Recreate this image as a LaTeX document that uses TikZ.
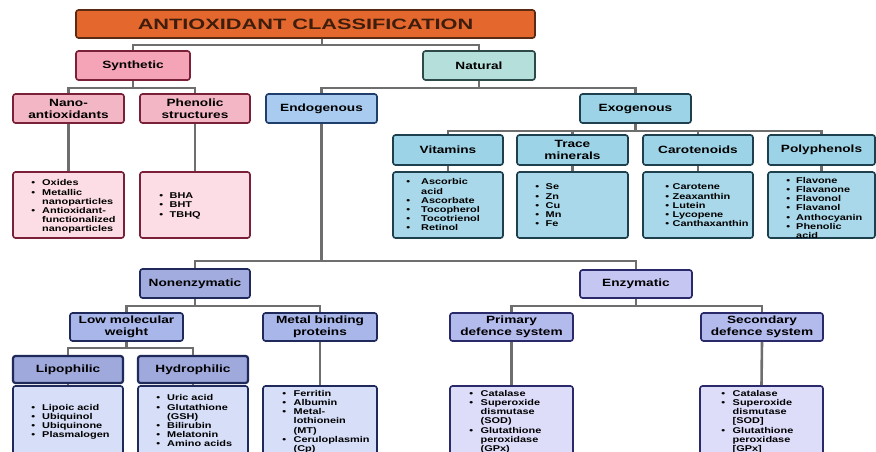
\documentclass[tikz,border=0pt]{standalone}
\usepackage{fontspec}
\newfontfamily\labfam[FakeStretch=1.3]{Liberation Sans Bold}
\newfontfamily\titfam[FakeStretch=1.45]{Liberation Sans Bold}
\newcommand\labfont{\labfam\fontsize{10.5}{12}\selectfont}
\newcommand\titfont{\titfam\fontsize{15}{17}\selectfont}
\newcommand\listfont{\labfam\fontsize{8.4}{9.2}\selectfont}
\newcommand\blist[2]{\begin{tabular}{@{}l@{\hspace{#1}}l@{}}#2\end{tabular}}
\newcommand\bu{\textbullet}
\definecolor{conncol}{HTML}{6E6E6E}
\definecolor{titfill}{HTML}{E4682E}
\definecolor{titdraw}{HTML}{5A2A12}
\definecolor{synfill}{HTML}{F5A3B6}
\definecolor{pinkfill}{HTML}{F3B6C5}
\definecolor{pinklist}{HTML}{FCDDE5}
\definecolor{pinkdraw}{HTML}{7A2038}
\definecolor{natfill}{HTML}{B4DFDA}
\definecolor{natdraw}{HTML}{2E4A48}
\definecolor{endofill}{HTML}{A9CBEF}
\definecolor{endodraw}{HTML}{1F3E6B}
\definecolor{exofill}{HTML}{9DD3E6}
\definecolor{exolist}{HTML}{A8D8E9}
\definecolor{exodraw}{HTML}{1E3F4E}
\definecolor{nonfill}{HTML}{A3ACDF}
\definecolor{nondraw}{HTML}{1F2A5A}
\definecolor{lowfill}{HTML}{A9B6E9}
\definecolor{lipofill}{HTML}{9FA9DC}
\definecolor{nonlist}{HTML}{D6DEF8}
\definecolor{enzfill}{HTML}{C6C6F2}
\definecolor{enzdraw}{HTML}{2A2A6A}
\definecolor{primfill}{HTML}{B3BAEC}
\definecolor{enzlist}{HTML}{DDDDFA}
\tikzset{
  box/.style={draw, rounded corners=2.5pt, line width=1.6pt, inner sep=0pt, align=center, font=\labfont, text=black},
  listtext/.style={inner sep=0pt, anchor=west, font=\listfont, align=left},
  conn/.style={draw=conncol, line width=2.6pt},
}
\begin{document}
\begin{tikzpicture}[x=1pt,y=-1pt]
\useasboundingbox (0,0) rectangle (876,451);
\clip (0,0) rectangle (876,451);
\fill[white] (0,0) rectangle (876,451);
% ---- nodes
\node[box, fill=titfill, draw=titdraw, minimum width=459, minimum height=28, font=\titfont, text=titdraw!70!black] (title) at (305.5,24) {ANTIOXIDANT CLASSIFICATION};
\node[box, fill=synfill, draw=pinkdraw, minimum width=114, minimum height=29] (synth) at (133,65.5) {Synthetic};
\node[box, fill=natfill, draw=natdraw, minimum width=112, minimum height=29] (natural) at (479,65.5) {Natural};
\node[box, fill=pinkfill, draw=pinkdraw, minimum width=111, minimum height=29] (nano) at (68.5,108.5) {Nano-\\antioxidants};
\node[box, fill=pinkfill, draw=pinkdraw, minimum width=110, minimum height=29] (phen) at (195,108.5) {Phenolic\\structures};
\node[box, fill=endofill, draw=endodraw, minimum width=111, minimum height=29] (endo) at (321.5,108.5) {Endogenous};
\node[box, fill=exofill, draw=exodraw, minimum width=111, minimum height=29] (exo) at (635.5,108.5) {Exogenous};
\node[box, fill=exofill, draw=exodraw, minimum width=110, minimum height=30] (vit) at (448,150) {Vitamins};
\node[box, fill=exofill, draw=exodraw, minimum width=111, minimum height=30] (trace) at (572.5,150) {Trace\\minerals};
\node[box, fill=exofill, draw=exodraw, minimum width=110, minimum height=30] (carot) at (698,150) {Carotenoids};
\node[box, fill=exofill, draw=exodraw, minimum width=107, minimum height=30] (poly) at (821.5,150) {Polyphenols};
% top lists
\node[box, fill=pinklist, draw=pinkdraw, minimum width=111, minimum height=66] (nanoL) at (68.5,205) {};
\node[box, fill=pinklist, draw=pinkdraw, minimum width=110, minimum height=66] (phenL) at (195,205) {};
\node[box, fill=exolist, draw=exodraw, minimum width=110, minimum height=66] (vitL) at (448,205) {};
\node[box, fill=exolist, draw=exodraw, minimum width=111, minimum height=66] (traceL) at (572.5,205) {};
\node[box, fill=exolist, draw=exodraw, minimum width=110, minimum height=66] (carotL) at (698,205) {};
\node[box, fill=exolist, draw=exodraw, minimum width=107, minimum height=66] (polyL) at (821.5,205) {};
\node[listtext] (nanoT) at ([xshift=19pt,yshift=-2pt]nanoL.west) {\blist{7pt}{\bu & Oxides\\ \bu & Metallic\\ & nanoparticles\\ \bu & Antioxidant-\\ & functionalized\\ & nanoparticles}};
\node[listtext] (phenT) at ([xshift=20pt,yshift=-1pt]phenL.west) {\blist{6.5pt}{\bu & BHA\\ \bu & BHT\\ \bu & TBHQ}};
\node[listtext] (vitT) at ([xshift=14pt,yshift=-1pt]vitL.west) {\blist{11pt}{\bu & Ascorbic\\ & acid\\ \bu & Ascorbate\\ \bu & Tocopherol\\ \bu & Tocotrienol\\ \bu & Retinol}};
\node[listtext] (traceT) at ([xshift=19pt,yshift=-1.5pt]traceL.west) {\blist{6.5pt}{\bu & Se\\ \bu & Zn\\ \bu & Cu\\ \bu & Mn\\ \bu & Fe}};
\node[listtext] (carotT) at ([xshift=23pt,yshift=-1.5pt]carotL.west) {\blist{3.5pt}{\bu & Carotene\\ \bu & Zeaxanthin\\ \bu & Lutein\\ \bu & Lycopene\\ \bu & Canthaxanthin}};
\node[listtext] (polyT) at ([xshift=19pt,yshift=-4pt]polyL.west) {\blist{6pt}{\bu & Flavone\\ \bu & Flavanone\\ \bu & Flavonol\\ \bu & Flavanol\\ \bu & Anthocyanin\\ \bu & Phenolic\\ & acid}};
% endogenous subtree
\node[box, fill=nonfill, draw=nondraw, minimum width=110, minimum height=29] (nonenz) at (195,283.5) {Nonenzymatic};
\node[box, fill=enzfill, draw=enzdraw, minimum width=112, minimum height=28] (enz) at (636,284) {Enzymatic};
\node[box, fill=lowfill, draw=nondraw, minimum width=113, minimum height=28] (lowmw) at (126.5,327) {Low molecular\\weight};
\node[box, fill=lowfill, draw=nondraw, minimum width=114, minimum height=28] (metal) at (320,327) {Metal binding\\proteins};
\node[box, fill=lipofill, draw=nondraw, line width=2.2pt, minimum width=110, minimum height=27] (lipo) at (68,369.5) {Lipophilic};
\node[box, fill=lipofill, draw=nondraw, line width=2.2pt, minimum width=110, minimum height=27] (hydro) at (193,369.5) {Hydrophilic};
\node[box, fill=primfill, draw=enzdraw, minimum width=123, minimum height=28] (prim) at (511.5,327) {Primary\\defence system};
\node[box, fill=primfill, draw=enzdraw, minimum width=122, minimum height=28] (sec) at (762,327) {Secondary\\defence system};
\node[box, fill=nonlist, draw=nondraw, minimum width=110, minimum height=72] (lipoL) at (68,422) {};
\node[box, fill=nonlist, draw=nondraw, minimum width=110, minimum height=72] (hydroL) at (193,422) {};
\node[box, fill=nonlist, draw=nondraw, minimum width=114, minimum height=72] (metalL) at (320,422) {};
\node[box, fill=enzlist, draw=enzdraw, minimum width=123, minimum height=72] (primL) at (511.5,422) {};
\node[box, fill=enzlist, draw=enzdraw, minimum width=123, minimum height=72] (secL) at (761.5,422) {};
\node[listtext] (lipoT) at ([xshift=19pt,yshift=0pt]lipoL.west) {\blist{7pt}{\bu & Lipoic acid\\ \bu & Ubiquinol\\ \bu & Ubiquinone\\ \bu & Plasmalogen}};
\node[listtext] (hydroT) at ([xshift=19pt,yshift=0pt]hydroL.west) {\blist{7pt}{\bu & Uric acid\\ \bu & Glutathione\\ & (GSH)\\ \bu & Bilirubin\\ \bu & Melatonin\\ \bu & Amino acids}};
\node[listtext] (metalT) at ([xshift=20pt,yshift=0pt]metalL.west) {\blist{7.5pt}{\bu & Ferritin\\ \bu & Albumin\\ \bu & Metal-\\ & lothionein\\ & (MT)\\ \bu & Ceruloplasmin\\ & (Cp)}};
\node[listtext] (primT) at ([xshift=20pt,yshift=0pt]primL.west) {\blist{7.5pt}{\bu & Catalase\\ \bu & Superoxide\\ & dismutase\\ & (SOD)\\ \bu & Glutathione\\ & peroxidase\\ & (GPx)}};
\node[listtext] (secT) at ([xshift=22pt,yshift=0pt]secL.west) {\blist{7.5pt}{\bu & Catalase\\ \bu & Superoxide\\ & dismutase\\ & [SOD]\\ \bu & Glutathione\\ & peroxidase\\ & [GPx]}};
% ---- connectors
\coordinate (b1) at (322,45);
\coordinate (b2) at (133,88);
\coordinate (b3) at (479,88);
\coordinate (b4) at (635.5,131);
\coordinate (b5) at (321.5,261);
\coordinate (b6) at (195,306);
\coordinate (b7) at (126.5,348);
\coordinate (b8) at (636,306);
\draw[conn] (title.south -| b1) -- (b1);
\draw[conn] (synth.north) |- (b1) -| (natural.north);
\draw[conn] (synth.south) -- (b2);
\draw[conn] (nano.north) |- (b2) -| (phen.north);
\draw[conn] (natural.south) -- (b3);
\draw[conn] (endo.north) |- (b3) -| (exo.north);
\draw[conn] (nano.south) -- (nanoL.north);
\draw[conn] (phen.south) -- (phenL.north);
\draw[conn] (exo.south) -- (b4);
\draw[conn] (vit.north) |- (b4) -| (poly.north);
\draw[conn] (trace.north) |- (b4);
\draw[conn] (carot.north) |- (b4);
\draw[conn] (vit.south) -- (vitL.north);
\draw[conn] (trace.south) -- (traceL.north);
\draw[conn] (carot.south) -- (carotL.north);
\draw[conn] (poly.south) -- (polyL.north);
\draw[conn] (endo.south) -- (b5);
\draw[conn] (nonenz.north) |- (b5) -| (enz.north);
\draw[conn] (nonenz.south) -- (b6);
\draw[conn] (lowmw.north) |- (b6) -| (metal.north);
\draw[conn] (lowmw.south) -- (b7);
\draw[conn] (lipo.north) |- (b7) -| (hydro.north);
\draw[conn] (lipo.south) -- (lipoL.north);
\draw[conn] (hydro.south) -- (hydroL.north);
\draw[conn] (metal.south) -- (metalL.north);
\draw[conn] (enz.south) -- (b8);
\draw[conn] (prim.north) |- (b8) -| (sec.north);
\draw[conn] (prim.south) -- (primL.north);
\draw[conn] (sec.south) -- (secL.north);
\end{tikzpicture}
\end{document}
